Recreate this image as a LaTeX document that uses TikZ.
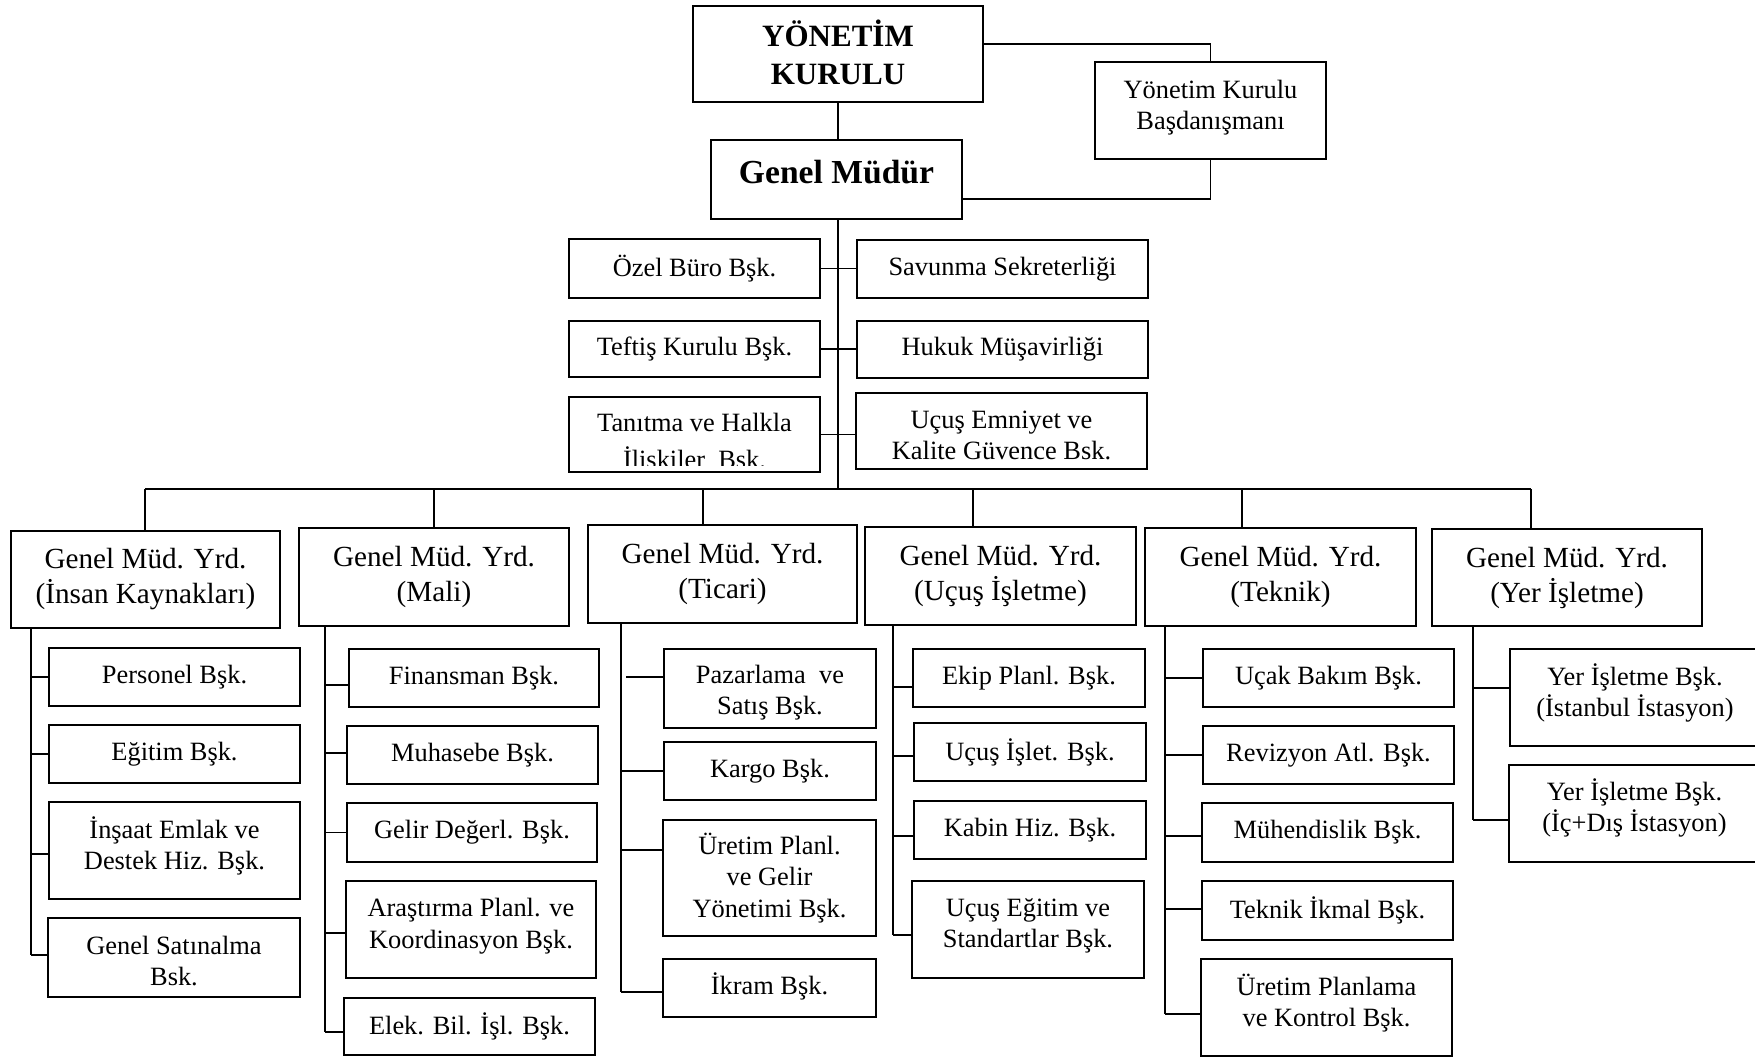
\documentclass[tikz,border=0pt]{standalone}
\usepackage{fontspec}
\setmainfont{Liberation Serif}
% box given by its corners, with its text raised by a shift:
% \orgbox[style]{name}{x1}{y1}{x2}{y2}{shift}{text}
\newcommand\orgbox[8][sub]{%
  \node[box,minimum width={(#5-#3)*0.5pt},minimum height={(#6-#4)*0.5pt}]
    (#2) at ({(#3+#5)/2},{(#4+#6)/2}) {};
  \node[#1,align=center,inner sep=0pt] (#2-t) at ([yshift=#7]#2.center) {#8};}
% horizontal branch from a vertical line to the west side of a box
\newcommand\branch[3]{%
  \path (#2.west) ++(0pt,#3) coordinate (br-#2);
  \draw[link] (br-#2) -- (br-#2 -| #1);}
\begin{document}
\begin{tikzpicture}[x=0.5pt,y=-0.5pt,
  box/.style={draw,line width=1pt,inner sep=0pt,outer sep=0pt},
  sub/.style={font=\fontsize{13.2}{15.6}\selectfont},
  head/.style={font=\fontsize{14.6}{17.5}\selectfont},
  topbold/.style={font=\fontsize{15.5}{18.7}\selectfont\bfseries},
  gmbold/.style={font=\fontsize{16.8}{19}\selectfont\bfseries},
  link/.style={line width=0.8pt}]
\useasboundingbox (0,0) rectangle (1755,1058);
\clip (0,0) rectangle (1755,1058);

% top management
\orgbox[topbold]{yk}{693}{6}{983}{102}{0.8pt}{YÖNETİM\\KURULU}
\orgbox{bd}{1095}{62}{1326}{159}{1.5pt}{Yönetim Kurulu\\Başdanışmanı}
\orgbox[gmbold]{gm}{711}{140}{962}{219}{3.9pt}{Genel Müdür}

\coordinate (ykl) at (0,44);
\coordinate (gml) at (0,199);
\draw[link] (yk.east |- ykl) -- (bd.north |- ykl) -- (bd.north);
\draw[link] (bd.south) -- (bd.south |- gml) -- (gm.east |- gml);
\draw[link] (yk.south) -- (yk.south |- gm.north);

% staff units
\orgbox{ozel}{569}{239}{820}{298}{0pt}{Özel Büro Bşk.}
\orgbox{sav}{857}{240}{1148}{298}{0pt}{Savunma Sekreterliği}
\orgbox{tef}{569}{321}{820}{377}{0pt}{Teftiş Kurulu Bşk.}
\orgbox{huk}{857}{321}{1148}{378}{0pt}{Hukuk Müşavirliği}
\orgbox{tan}{569}{397}{820}{472}{0pt}{}
\orgbox{uem}{856}{393}{1147}{469}{-2.2pt}{Uçuş Emniyet ve\\Kalite Güvence Bsk.}
% the second line of this box runs into its lower border and is cut off
\begin{scope}
  \clip (571,399) rectangle (818,466);
  \node[sub,anchor=base,inner sep=0pt] (tan1) at (694.5,432) {Tanıtma ve Halkla};
  \node[sub,anchor=base,inner sep=0pt] (tan2) at (694.5,469) {İliskiler~ Bsk.};
\end{scope}

\coordinate (spine) at (838,489);
\draw[link] (gm.south -| spine) -- (spine);
\draw[link] (ozel.east) -- (ozel.east -| sav.west);
\draw[link] (tef.east) -- (tef.east -| huk.west);
\draw[link] (tan.east) -- (tan.east -| uem.west);

% deputy general managers
\orgbox[head]{ik}{11}{531}{280}{628}{0pt}{Genel Müd. Yrd.\\(İnsan Kaynakları)}
\orgbox[head]{mal}{299}{528}{569}{626}{0pt}{Genel Müd. Yrd.\\(Mali)}
\orgbox[head]{tic}{588}{525}{857}{623}{0pt}{Genel Müd. Yrd.\\(Ticari)}
\orgbox[head]{uci}{865}{527}{1136}{625}{0pt}{Genel Müd. Yrd.\\(Uçuş İşletme)}
\orgbox[head]{tek}{1145}{528}{1416}{626}{0pt}{Genel Müd. Yrd.\\(Teknik)}
\orgbox[head]{yer}{1432}{529}{1702}{626}{0pt}{Genel Müd. Yrd.\\(Yer İşletme)}

\coordinate (d1) at (145,489);
\coordinate (d2) at (434,489);
\coordinate (d3) at (703,489);
\coordinate (d4) at (973,489);
\coordinate (d5) at (1242,489);
\coordinate (d6) at (1531,489);
\draw[link] (d1) -- (d6);
\draw[link] (d1) -- (d1 |- ik.north);
\draw[link] (d2) -- (d2 |- mal.north);
\draw[link] (d3) -- (d3 |- tic.north);
\draw[link] (d4) -- (d4 |- uci.north);
\draw[link] (d5) -- (d5 |- tek.north);
\draw[link] (d6) -- (d6 |- yer.north);

% human resources
\orgbox{per}{49}{648}{300}{706}{0pt}{Personel Bşk.}
\orgbox{egi}{49}{725}{300}{783}{0pt}{Eğitim Bşk.}
\orgbox{ins}{49}{802}{300}{899}{2.2pt}{İnşaat Emlak ve\\Destek Hiz. Bşk.}
\orgbox{sat}{48}{918}{300}{997}{-1.7pt}{Genel Satınalma\\Bsk.}
\coordinate (ikv) at (31,0);
\branch{ikv}{per}{0pt}
\branch{ikv}{egi}{0pt}
\branch{ikv}{ins}{-1.75pt}
\branch{ikv}{sat}{1.25pt}
\draw[link] (ik.south -| ikv) -- (br-sat -| ikv);

% finance
\orgbox{fin}{349}{649}{599}{707}{0pt}{Finansman Bşk.}
\orgbox{muh}{347}{726}{598}{784}{0pt}{Muhasebe Bşk.}
\orgbox{gel}{347}{803}{597}{862}{0pt}{Gelir Değerl. Bşk.}
\orgbox{ara}{346}{881}{596}{978}{1.7pt}{Araştırma Planl. ve\\Koordinasyon Bşk.}
\orgbox{ele}{344}{998}{595}{1055}{0pt}{Elek. Bil. İşl. Bşk.}
\coordinate (malv) at (325,0);
\branch{malv}{fin}{-3.5pt}
\branch{malv}{muh}{1pt}
\branch{malv}{gel}{0pt}
\branch{malv}{ara}{-1.75pt}
\branch{malv}{ele}{-2.75pt}
\draw[link] (mal.south -| malv) -- (br-ele -| malv);

% commercial
\orgbox{paz}{664}{649}{876}{728}{-2pt}{Pazarlama~ ve\\Satış Bşk.}
\orgbox{kar}{664}{742}{876}{800}{0pt}{Kargo Bşk.}
\orgbox{ure}{663}{820}{876}{936}{0pt}{Üretim Planl.\\ve Gelir\\Yönetimi Bşk.}
\orgbox{ikr}{663}{959}{876}{1017}{0.6pt}{İkram Bşk.}
\coordinate (ticv) at (621,0);
\path (paz.west) ++(0pt,5.75pt) coordinate (br-paz);
\draw[link] (br-paz) -- ++(-38,0);
\branch{ticv}{kar}{0pt}
\branch{ticv}{ure}{14pt}
\branch{ticv}{ikr}{-2pt}
\draw[link] (tic.south -| ticv) -- (br-ikr -| ticv);

% flight operations
\orgbox{eki}{913}{649}{1145}{707}{0pt}{Ekip Planl. Bşk.}
\orgbox{uis}{914}{723}{1146}{781}{0pt}{Uçuş İşlet. Bşk.}
\orgbox{kab}{914}{801}{1146}{859}{0pt}{Kabin Hiz. Bşk.}
\orgbox{ueg}{912}{881}{1144}{978}{1.7pt}{Uçuş Eğitim ve\\Standartlar Bşk.}
\coordinate (uciv) at (893,0);
\branch{uciv}{eki}{-4.5pt}
\branch{uciv}{uis}{-2pt}
\branch{uciv}{kab}{-3pt}
\branch{uciv}{ueg}{-2.75pt}
\draw[link] (uci.south -| uciv) -- (br-ueg -| uciv);

% technical
\orgbox{uca}{1203}{649}{1454}{707}{0pt}{Uçak Bakım Bşk.}
\orgbox{rev}{1203}{726}{1454}{784}{0pt}{Revizyon Atl. Bşk.}
\orgbox{mhd}{1202}{803}{1453}{862}{0pt}{Mühendislik Bşk.}
\orgbox{ikm}{1202}{881}{1453}{940}{0pt}{Teknik İkmal Bşk.}
\orgbox{upk}{1201}{959}{1452}{1056}{2.2pt}{Üretim Planlama\\ve Kontrol Bşk.}
\coordinate (tekv) at (1165,0);
\branch{tekv}{uca}{0pt}
\branch{tekv}{rev}{0pt}
\branch{tekv}{mhd}{-1.75pt}
\branch{tekv}{ikm}{0.75pt}
\branch{tekv}{upk}{-3.25pt}
\draw[link] (tek.south -| tekv) -- (br-upk -| tekv);

% ground operations
\orgbox{yis}{1510}{649}{1760}{746}{2.2pt}{Yer İşletme Bşk.\\(İstanbul İstasyon)}
\orgbox{yid}{1509}{765}{1760}{862}{2.8pt}{Yer İşletme Bşk.\\(İç+Dış İstasyon)}
\coordinate (yerv) at (1473,0);
\branch{yerv}{yis}{4.75pt}
\branch{yerv}{yid}{-3.25pt}
\draw[link] (yer.south -| yerv) -- (br-yid -| yerv);
\end{tikzpicture}
\end{document}
